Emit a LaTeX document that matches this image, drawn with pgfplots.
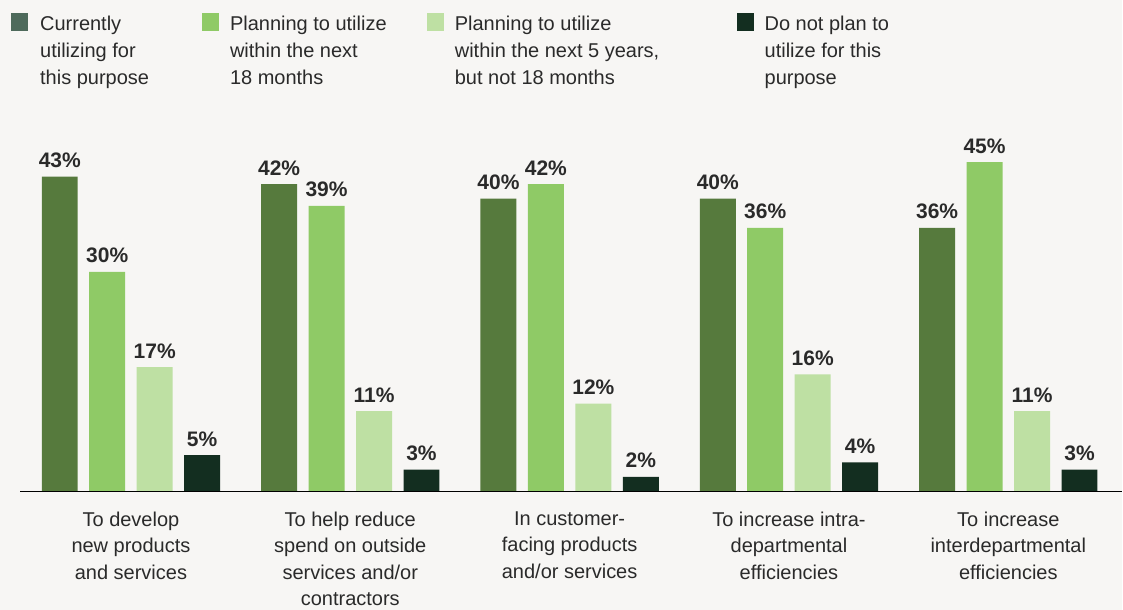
\documentclass[border=0pt]{standalone}
\usepackage{fontspec}
\setmainfont{Liberation Sans}
\usepackage{xcolor}
\usepackage{pgfplots}
\pgfplotsset{compat=1.18}
\definecolor{bg}{HTML}{F7F6F4}
\definecolor{txt}{HTML}{2A2A2A}
\definecolor{cur}{HTML}{567A3D}
\definecolor{curleg}{HTML}{4E6A5B}
\definecolor{next18}{HTML}{8FCA66}
\definecolor{next5}{HTML}{BEE0A3}
\definecolor{noplan}{HTML}{132E20}

\begin{document}
\begin{tikzpicture}
% page area: 1123 x 610, axis origin at (20.2px, 492px) of the image
\fill[bg] (-20.2pt,-118pt) rectangle (1102.8pt,492pt);
\begin{axis}[
  scale only axis, width=1103pt, height=366.5pt,
  xmin=-0.505, xmax=4.52, ymin=0, ymax=50,
  ybar=11.5pt, bar width=36pt,
  axis x line*=bottom, axis y line=none,
  axis line style={black, line width=1.3pt, -},
  xtick={0,1,2,3,4}, major tick length=0pt,
  xticklabels={{To develop\\new products\\and services},
    {To help reduce\\spend on outside\\services and/or\\contractors},
    {In customer-\\facing products\\and/or services},
    {To increase intra-\\departmental\\efficiencies},
    {To increase\\interdepartmental\\efficiencies}},
  xticklabel style={align=center, text=txt, font=\fontsize{20}{26.5}\selectfont, anchor=north, yshift=-16.5pt},
  ytick=\empty,
  clip=false, axis on top,
  /pgf/number format/assume math mode=true,
  nodes near coords={\pgfmathprintnumber{\pgfplotspointmeta}\%},
  every node near coord/.append style={anchor=base, yshift=9pt, text=txt, font=\bfseries\fontsize{21}{21}\selectfont},
]
\addplot[fill=cur, draw=none]
  coordinates {(0,43) (1,42) (2,40) (3,40) (4,36)};
\addplot[fill=next18, draw=none]
  coordinates {(0,30) (1,39) (2,42) (3,36) (4,45)};
\addplot[fill=next5, draw=none]
  coordinates {(0,17) (1,11) (2,12) (3,16) (4,11)};
\addplot[fill=noplan, draw=none]
  coordinates {(0,5) (1,3) (2,2) (3,4) (4,3)};
\end{axis}
% legend (base anchor of a multi-line node is its last line)
\begin{scope}[every node/.style={anchor=base west, inner sep=0pt, align=left, text=txt, font=\fontsize{20}{27}\selectfont}]
\fill[curleg] (-9.2pt,461pt) rectangle (7.8pt,479pt);
\node at (19.8pt,407pt) {Currently\\utilizing for\\this purpose};
\fill[next18] (181.8pt,461pt) rectangle (198.8pt,479pt);
\node at (209.8pt,407pt) {Planning to utilize\\within the next\\18 months};
\fill[next5] (406.8pt,461pt) rectangle (423.8pt,479pt);
\node at (434.8pt,407pt) {Planning to utilize\\within the next 5 years,\\but not 18 months};
\fill[noplan] (717.8pt,461pt) rectangle (734.8pt,479pt);
\node at (744.8pt,407pt) {Do not plan to\\utilize for this\\purpose};
\end{scope}
\end{tikzpicture}
\end{document}
